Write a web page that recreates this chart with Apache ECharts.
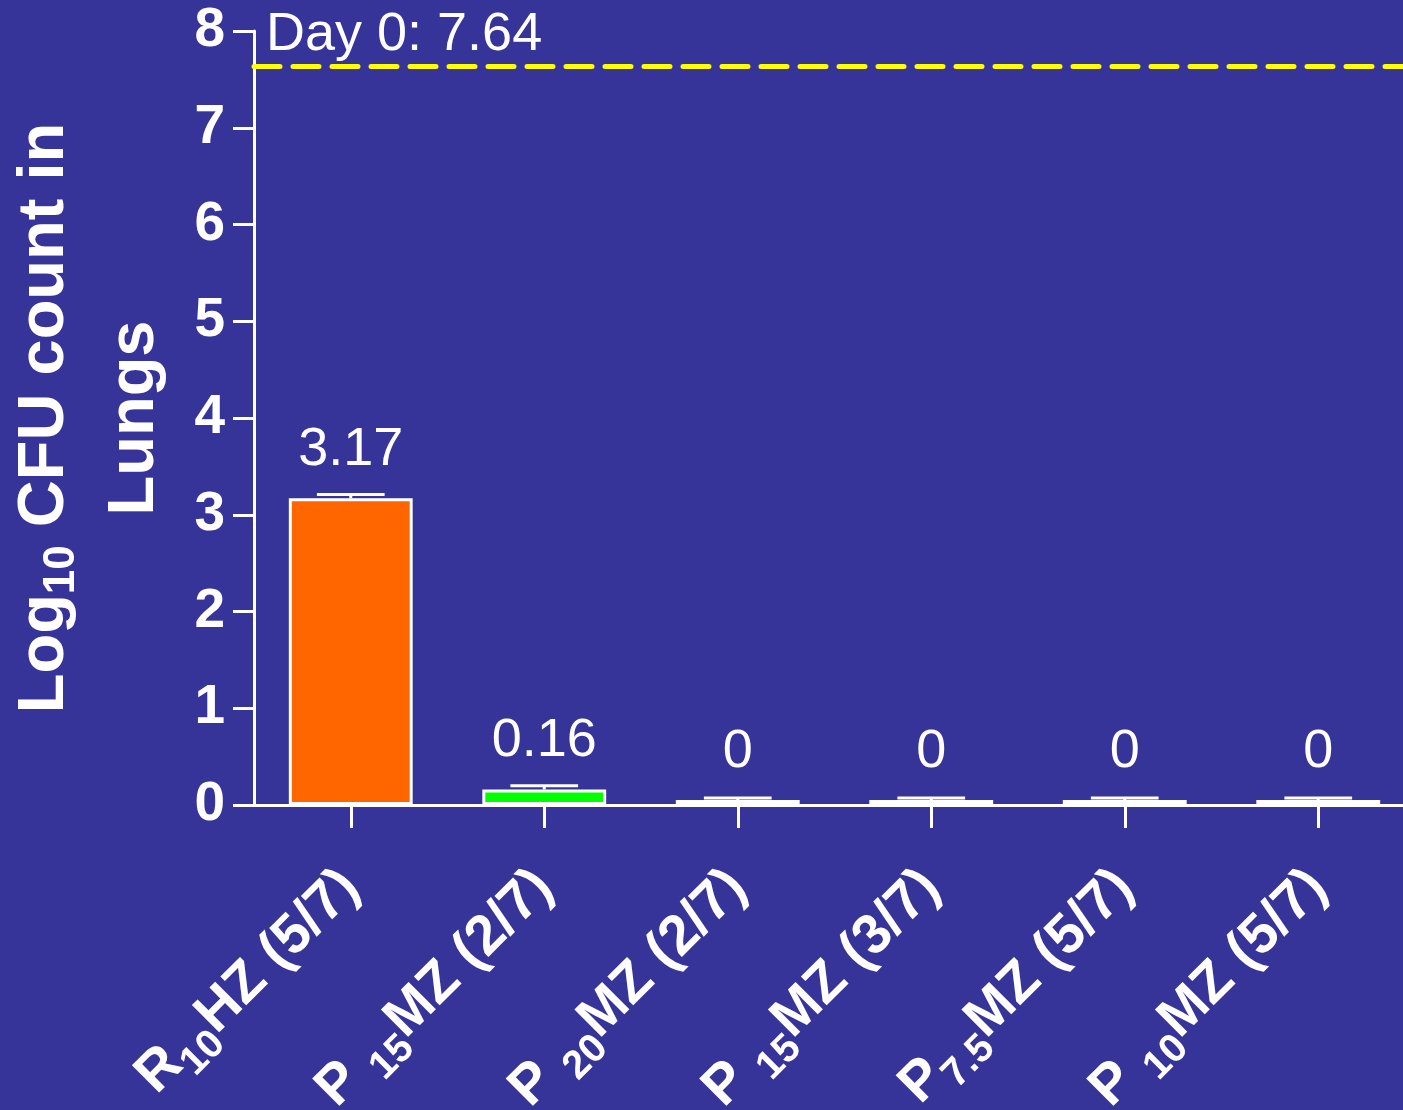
<!DOCTYPE html>
<html>
<head>
<meta charset="utf-8">
<script src="https://cdn.jsdelivr.net/npm/echarts@6/dist/echarts.min.js"></script>
<style>
  html, body { margin: 0; padding: 0; background: #363498; }
  #chart { width: 1403px; height: 1110px; }
</style>
</head>
<body>
<div id="chart"></div>
<script>
// Treatment groups: drug letter, dose (subscript), partner drugs, mice culture-positive
const drugs     = ['R', 'P ', 'P ', 'P ', 'P', 'P '];
const doses     = ['10', '15', '20', '15', '7.5', '10'];
const partners  = ['HZ', 'MZ', 'MZ', 'MZ', 'MZ', 'MZ'];
const positives = ['5/7', '2/7', '2/7', '3/7', '5/7', '5/7'];

// Mean log10 CFU in lungs and standard deviation
const meanLog = [3.17, 0.16, 0, 0, 0, 0];
const sdLog   = [0.04, 0.04, 0, 0, 0, 0];
const barColors = ['#FF6600', '#00FF00', '#00FF00', '#00FF00', '#00FF00', '#00FF00'];

// Baseline burden at start of treatment
const day0 = 7.64;

// Y axis ticks
const yMin = 0, yMax = 8, yStep = 1;

const FONT = 'Liberation Sans, Arial, Helvetica, sans-serif';

const categories = drugs.map((d, i) =>
  d + '{sub|' + doses[i] + '}' + partners[i] + ' (' + positives[i] + ')');

const chart = echarts.init(document.getElementById('chart'));

chart.setOption({
  backgroundColor: '#363498',
  animation: false,
  grid: { left: 254, right: -12, top: 31, bottom: 305, containLabel: false, outerBoundsMode: 'none' },
  xAxis: {
    type: 'category',
    data: categories,
    axisLine: { lineStyle: { color: '#fff', width: 3 } },
    axisTick: { show: true, alignWithLabel: true, length: 23, lineStyle: { color: '#fff', width: 3 } },
    axisLabel: {
      interval: 0,
      rotate: 45,
      margin: 74,
      color: '#fff',
      fontFamily: FONT,
      fontSize: 56,
      fontWeight: 'bold',
      lineHeight: 66,
      rich: {
        sub: { fontSize: 40, fontWeight: 'bold', fontFamily: FONT, color: '#fff', lineHeight: 36, padding: [38, 0, 0, 0] }
      }
    }
  },
  yAxis: {
    type: 'value',
    min: yMin, max: yMax, interval: yStep,
    splitLine: { show: false },
    axisLine: { show: true, lineStyle: { color: '#fff', width: 3 } },
    axisTick: { show: true, length: 21, lineStyle: { color: '#fff', width: 3 } },
    axisLabel: { color: '#fff', fontFamily: FONT, fontSize: 55, fontWeight: 'bold', margin: 29 },
    name: 'Log{sub|10} CFU count in\nLungs',
    nameLocation: 'middle',
    nameRotate: 90,
    nameGap: 74,
    nameTextStyle: {
      color: '#fff', fontFamily: FONT, fontSize: 65, fontWeight: 'bold', lineHeight: 90,
      rich: {
        sub: { fontSize: 44, fontWeight: 'bold', fontFamily: FONT, color: '#fff', lineHeight: 44, padding: [34, 0, 0, 0] }
      }
    }
  },
  series: [
    {
      type: 'bar',
      data: meanLog.map((v, i) => ({ value: v, itemStyle: { color: barColors[i] } })),
      barWidth: '64%',
      barMinHeight: 5,
      itemStyle: { borderColor: '#fff', borderWidth: 3 },
      label: {
        show: true, position: 'top', distance: 21,
        color: '#fff', fontFamily: FONT, fontSize: 54, formatter: '{c}'
      },
      markLine: {
        silent: true,
        symbol: 'none',
        data: [{ yAxis: day0 }],
        lineStyle: { color: '#FFFF00', width: 5, type: [26, 13], cap: 'round' },
        label: {
          position: 'insideStartTop',
          formatter: 'Day 0: ' + day0,
          color: '#fff', fontFamily: FONT, fontSize: 54, distance: [12, 4]
        }
      },
      z: 2
    },
    {
      // SD whiskers on top of each bar
      type: 'custom',
      data: meanLog.map((m, i) => [i, m, sdLog[i]]),
      encode: { x: 0, y: 1 },
      z: 3,
      renderItem: function (params, api) {
        const i = api.value(0);
        const mean = api.value(1);
        const sd = api.value(2);
        const base = api.coord([i, 0]);
        const top = api.coord([i, mean]);
        const cap = api.coord([i, mean + sd]);
        const capY = Math.min(cap[1], base[1] - 7);
        const half = api.size([1, 0])[0] * 0.175;
        const st = { stroke: '#fff', lineWidth: 3 };
        return {
          type: 'group',
          children: [
            { type: 'line', shape: { x1: top[0], y1: Math.min(top[1], base[1] - 5), x2: top[0], y2: capY }, style: st },
            { type: 'line', shape: { x1: top[0] - half, y1: capY, x2: top[0] + half, y2: capY }, style: st }
          ]
        };
      }
    }
  ]
});
</script>
</body>
</html>
